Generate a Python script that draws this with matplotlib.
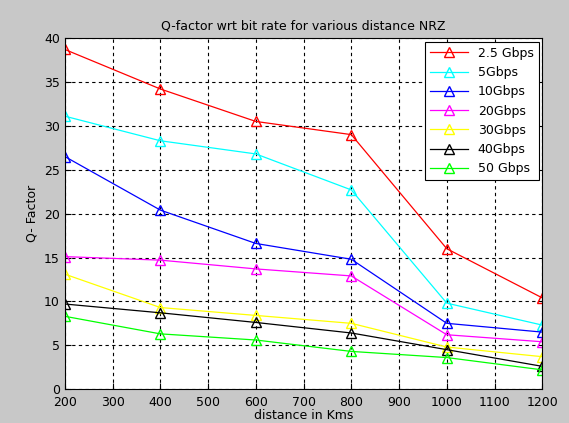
import numpy as np
import matplotlib.pyplot as plt

# distance in km and Q-factor for each bit rate (NRZ)
distance = [200, 400, 600, 800, 1000, 1200]
q_2_5 = [38.7, 34.2, 30.5, 29.0, 16.0, 10.4]
q_5 = [31.1, 28.3, 26.8, 22.7, 9.8, 7.3]
q_10 = [26.5, 20.4, 16.6, 14.8, 7.5, 6.5]
q_20 = [15.1, 14.7, 13.7, 12.9, 6.2, 5.4]
q_30 = [13.1, 9.3, 8.4, 7.5, 4.8, 3.7]
q_40 = [9.7, 8.7, 7.6, 6.4, 4.5, 2.6]
q_50 = [8.3, 6.3, 5.6, 4.3, 3.6, 2.2]

series = [
    (q_2_5, '#ff0000', '2.5 Gbps'),
    (q_5, '#00ffff', '5Gbps'),
    (q_10, '#0000ff', '10Gbps'),
    (q_20, '#ff00ff', '20Gbps'),
    (q_30, '#ffff00', '30Gbps'),
    (q_40, '#000000', '40Gbps'),
    (q_50, '#00ff00', '50 Gbps'),
]

fig = plt.figure(figsize=(5.69, 4.23), dpi=100, facecolor='#c8c8c8')
ax = fig.add_axes([0.114, 0.080, 0.839, 0.830])

for vals, col, lab in series:
    ax.plot(distance, vals, color=col, marker='^', markerfacecolor='none',
            markersize=6.5, linewidth=0.9, label=lab)

ax.set_xlim(200, 1200)
ax.set_ylim(0, 40)
ax.set_xticks(np.arange(200, 1201, 100))
ax.set_yticks(np.arange(0, 41, 5))
ax.grid(True, color='k', linestyle=(0, (3, 3)), linewidth=0.8)
ax.tick_params(direction='in', labelsize=9, length=4)
ax.tick_params(axis='x', pad=5)

ax.set_title('Q-factor wrt bit rate for various distance NRZ', fontsize=9)
ax.set_xlabel('distance in Kms', fontsize=9, labelpad=0)
ax.set_ylabel('Q- Factor', fontsize=9)

leg = ax.legend(loc='upper right', fontsize=9, fancybox=False, framealpha=1,
                edgecolor='k', handlelength=3, borderaxespad=0.3)
leg.get_frame().set_linewidth(0.8)

fig.savefig('out.png', dpi=100, facecolor=fig.get_facecolor())
